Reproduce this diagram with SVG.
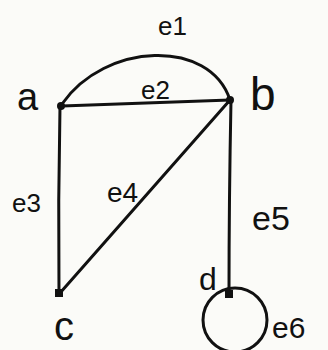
<svg xmlns="http://www.w3.org/2000/svg" width="328" height="350" viewBox="0 0 328 350">
<style>
.edge{fill:none;stroke:#111;stroke-width:3;stroke-linecap:round}
.node{fill:#111}
.lbl{font-family:"Liberation Sans","DejaVu Sans",sans-serif;fill:#111}
</style>
<rect width="328" height="350" fill="#fbfbf8"/>
<g id="connectors">
<path id="e1" class="edge" d="M62,104 C105,42 210,38 230,100"/>
<path id="e2" class="edge" d="M62,106 L230,100"/>
<path id="e3" class="edge" d="M60,106 Q58,200 59,294"/>
<path id="e4" class="edge" d="M60,293 L230,100"/>
<path id="e5" class="edge" d="M231,100 Q229,200 229,294"/>
<circle id="e6" class="edge" cx="235" cy="320" r="32"/>
</g>
<g id="node-a"><circle class="node" cx="61" cy="106" r="4"/><text class="lbl" x="17" y="110" font-size="38">a</text></g>
<g id="node-b"><circle class="node" cx="230" cy="100" r="4"/><text class="lbl" x="250" y="110" font-size="46">b</text></g>
<g id="node-c"><rect class="node" x="55" y="289" width="8" height="8"/><text class="lbl" x="54" y="340" font-size="40">c</text></g>
<g id="node-d"><rect class="node" x="225" y="290" width="8" height="8"/><text class="lbl" x="199" y="290" font-size="32">d</text></g>
<g id="labels">
<text class="lbl" x="158" y="35" font-size="26">e1</text>
<text class="lbl" x="141" y="99" font-size="26">e2</text>
<text class="lbl" x="12" y="212" font-size="26">e3</text>
<text class="lbl" x="107" y="202" font-size="28">e4</text>
<text class="lbl" x="252" y="230" font-size="34">e5</text>
<text class="lbl" x="272" y="338" font-size="30">e6</text>
</g>
</svg>
